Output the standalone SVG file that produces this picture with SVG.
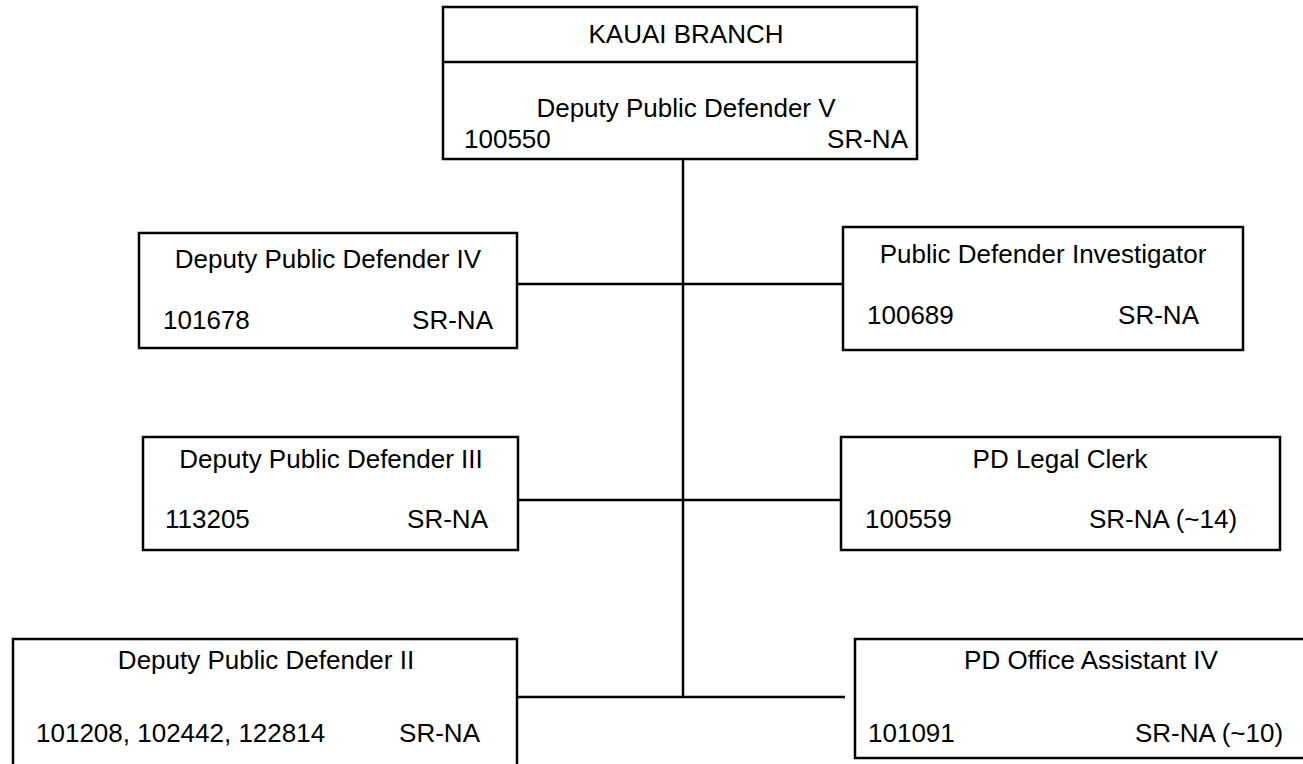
<svg xmlns="http://www.w3.org/2000/svg" width="1303" height="764" viewBox="0 0 1303 764">
<style>
.box{fill:#fff;stroke:#000;stroke-width:2.5}
.ln{fill:none;stroke:#000;stroke-width:2.5}
.t{font-family:"Liberation Sans",Arial,sans-serif;font-size:26px;fill:#000}
.c{text-anchor:middle}
.e{text-anchor:end}
</style>
<rect width="1303" height="764" fill="#fff"/>
<g id="connectors">
<line class="ln" x1="683" y1="159" x2="683" y2="697"/>
<line class="ln" x1="517" y1="284" x2="843" y2="284"/>
<line class="ln" x1="518" y1="500" x2="841" y2="500"/>
<line class="ln" x1="517" y1="697" x2="845" y2="697"/>
</g>
<g id="kauai-branch">
<rect class="box" x="443" y="7" width="474" height="152"/>
<line class="ln" x1="443" y1="62" x2="917" y2="62"/>
<text class="t c" x="686" y="43" font-size="28">KAUAI BRANCH</text>
<text class="t c" x="686" y="117">Deputy Public Defender V</text>
<text class="t" x="464" y="148" font-size="27">100550</text>
<text class="t e" x="908" y="148" font-size="27">SR-NA</text>
</g>
<g id="dpd-iv">
<rect class="box" x="139" y="233" width="378" height="115"/>
<text class="t c" x="328" y="268">Deputy Public Defender IV</text>
<text class="t" x="163" y="329">101678</text>
<text class="t e" x="493" y="329">SR-NA</text>
</g>
<g id="pd-investigator">
<rect class="box" x="843" y="227" width="400" height="123"/>
<text class="t c" x="1043" y="263">Public Defender Investigator</text>
<text class="t" x="867" y="324">100689</text>
<text class="t e" x="1199" y="324">SR-NA</text>
</g>
<g id="dpd-iii">
<rect class="box" x="143" y="437" width="375" height="113"/>
<text class="t c" x="331" y="468">Deputy Public Defender III</text>
<text class="t" x="165" y="528">113205</text>
<text class="t e" x="488" y="528">SR-NA</text>
</g>
<g id="pd-legal-clerk">
<rect class="box" x="841" y="437" width="439" height="113"/>
<text class="t c" x="1060" y="468">PD Legal Clerk</text>
<text class="t" x="865" y="528">100559</text>
<text class="t" x="1089" y="528">SR-NA (~14)</text>
</g>
<g id="dpd-ii">
<rect class="box" x="13" y="639" width="504" height="140"/>
<text class="t c" x="266" y="669">Deputy Public Defender II</text>
<text class="t" x="36" y="742">101208, 102442, 122814</text>
<text class="t e" x="480" y="742">SR-NA</text>
</g>
<g id="pd-office-assistant-iv">
<rect class="box" x="855" y="639" width="480" height="119"/>
<text class="t c" x="1091" y="669">PD Office Assistant IV</text>
<text class="t" x="868" y="742">101091</text>
<text class="t" x="1135" y="742">SR-NA (~10)</text>
</g>
</svg>
